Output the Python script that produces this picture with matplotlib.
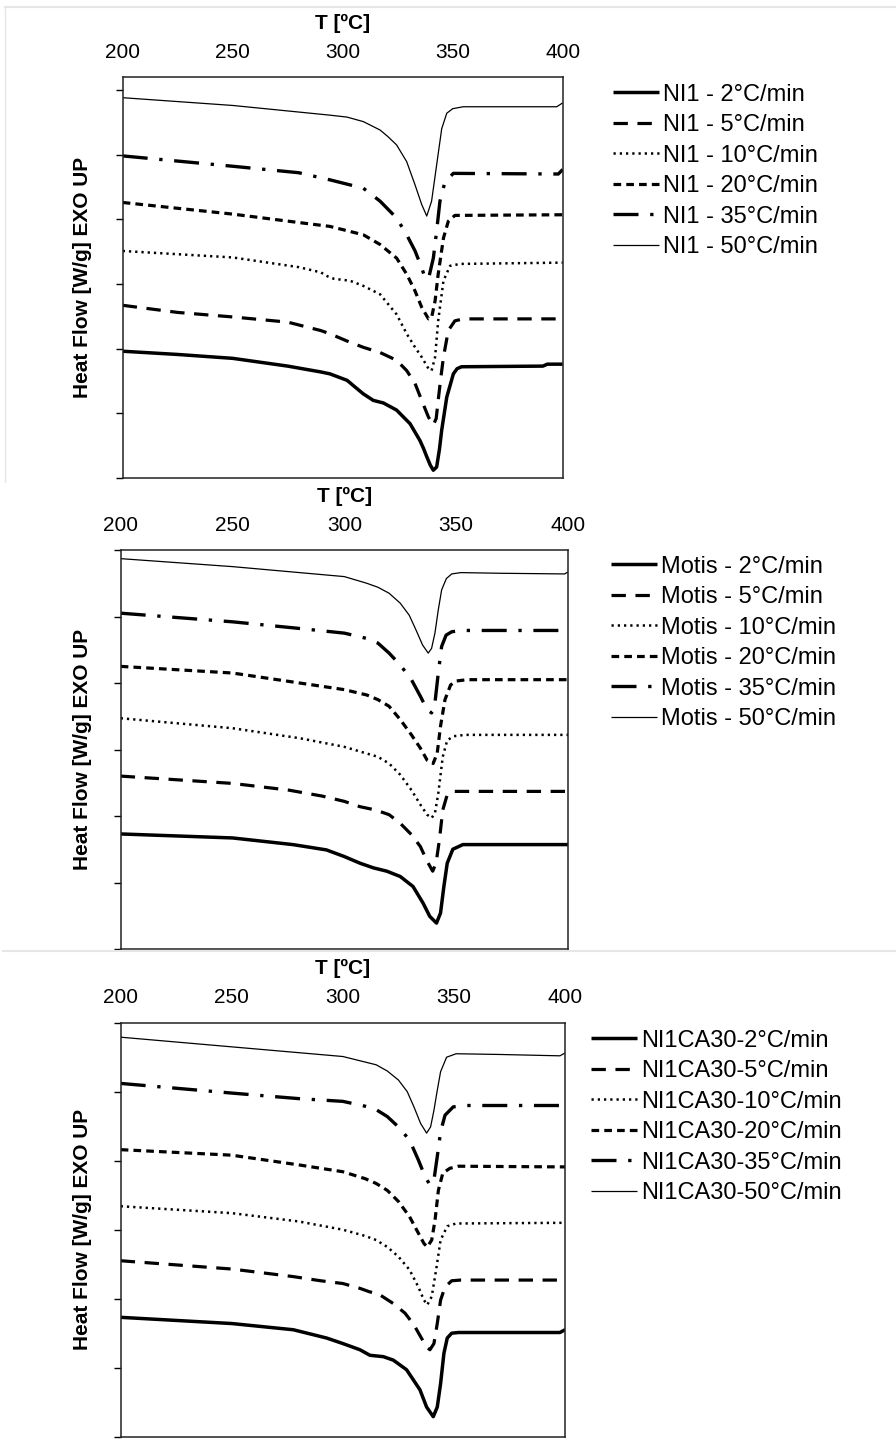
import matplotlib
matplotlib.use("Agg")
import matplotlib.pyplot as plt
from matplotlib.lines import Line2D

plt.rcParams['font.family'] = ['Liberation Sans', 'DejaVu Sans']

RATES = [2, 5, 10, 20, 35, 50]
T_TICKS = [200, 250, 300, 350, 400]
X_TITLE = "T [ºC]"
Y_TITLE = "Heat Flow [W/g] EXO UP"

# --- NI1 ---------------------------------------------------------------
ni1_T = {
    2:  [200, 225, 250, 275, 290, 294.2, 302, 305.5, 309.4, 313.9, 318.5, 324.5, 330.6, 335.1, 336.7, 338.2, 339.8, 341.2, 342.7, 344, 345, 347.3, 350.3, 352, 354, 391, 393, 400],
    5:  [200, 225, 250, 275, 290, 294.2, 301.8, 309.4, 317, 324.5, 329.1, 332.9, 335.9, 339, 341.2, 342.5, 343.4, 344.6, 345.8, 348, 351, 354.8, 400],
    10: [200, 250, 280, 290, 293, 296, 303.3, 309.4, 317, 324.5, 329.1, 332.9, 335.9, 339, 340.4, 342, 343.4, 345.8, 348.8, 353.3, 400],
    20: [200, 250, 280, 294.2, 309.4, 317, 324.5, 329.1, 332.9, 335.9, 339, 340.4, 342, 343.4, 345.8, 348, 351, 400],
    35: [200, 250, 280, 294.2, 309.4, 317, 324.5, 329.1, 332.9, 335.9, 337.4, 339, 341.2, 342.7, 344.2, 346.5, 350.3, 398, 400],
    50: [200, 250, 294.2, 302, 309.4, 317, 320.5, 324.5, 329.1, 332.9, 335.9, 338.2, 340.4, 342.7, 345, 347.3, 350, 354.8, 397.3, 400],
}
ni1_HF = {
    2:  [1.96, 1.91, 1.85, 1.73, 1.64, 1.61, 1.51, 1.41, 1.30, 1.20, 1.16, 1.05, 0.84, 0.58, 0.46, 0.33, 0.20, 0.12, 0.17, 0.45, 0.74, 1.25, 1.61, 1.69, 1.72, 1.73, 1.76, 1.76],
    5:  [2.67, 2.56, 2.49, 2.41, 2.28, 2.23, 2.12, 2.02, 1.94, 1.82, 1.66, 1.46, 1.20, 0.94, 0.82, 0.92, 1.20, 1.55, 1.87, 2.28, 2.43, 2.46, 2.46],
    10: [3.51, 3.41, 3.26, 3.18, 3.12, 3.08, 3.05, 2.97, 2.84, 2.53, 2.23, 2.02, 1.87, 1.69, 1.66, 1.87, 2.43, 3.05, 3.28, 3.31, 3.33],
    20: [4.26, 4.08, 3.95, 3.89, 3.76, 3.61, 3.40, 3.15, 2.89, 2.64, 2.46, 2.48, 2.74, 3.15, 3.71, 3.97, 4.06, 4.07],
    35: [4.98, 4.82, 4.72, 4.61, 4.48, 4.28, 4.02, 3.76, 3.51, 3.25, 3.10, 3.08, 3.40, 3.82, 4.28, 4.58, 4.71, 4.70, 4.77],
    50: [5.88, 5.76, 5.61, 5.58, 5.51, 5.38, 5.28, 5.15, 4.89, 4.53, 4.23, 4.05, 4.28, 4.84, 5.40, 5.64, 5.71, 5.74, 5.74, 5.80],
}

# --- Motis -------------------------------------------------------------
motis_T = {
    2:  [200, 250, 277, 292, 300, 307, 313, 319, 325, 330.7, 335.2, 338.2, 341.2, 343, 344.5, 346, 348.5, 353, 400],
    5:  [200, 250, 275, 290, 300, 307, 314, 320, 325, 330, 334, 337, 339.5, 341, 342.5, 344, 346, 349, 400],
    10: [200, 250, 280, 300, 310, 315, 320, 325, 330, 334, 337, 339, 340.5, 342, 344, 346, 349, 354, 400],
    20: [200, 250, 280, 300, 310, 315, 320, 325, 330, 334, 337, 339.7, 341.5, 343, 345, 347.5, 350, 355, 400],
    35: [200, 250, 280, 300, 310, 315, 320, 325, 330, 334, 337, 339, 340.5, 342, 343.5, 345.5, 348, 352, 400],
    50: [200, 250, 300, 310, 315, 320, 325, 329, 332, 335, 337.5, 339, 340.5, 342, 343.5, 345.6, 348, 352, 370, 398.5, 400],
}
motis_HF = {
    2:  [1.73, 1.67, 1.57, 1.49, 1.39, 1.29, 1.22, 1.17, 1.09, 0.94, 0.69, 0.49, 0.39, 0.54, 0.94, 1.29, 1.50, 1.57, 1.57],
    5:  [2.60, 2.49, 2.39, 2.30, 2.22, 2.14, 2.09, 2.02, 1.89, 1.72, 1.54, 1.32, 1.17, 1.29, 1.64, 2.09, 2.32, 2.37, 2.37],
    10: [3.47, 3.32, 3.17, 3.04, 2.94, 2.89, 2.79, 2.62, 2.39, 2.17, 2.02, 1.97, 2.04, 2.34, 2.89, 3.14, 3.20, 3.22, 3.22],
    20: [4.25, 4.15, 4.00, 3.90, 3.82, 3.75, 3.65, 3.45, 3.22, 3.02, 2.84, 2.79, 2.94, 3.35, 3.75, 3.97, 4.03, 4.05, 4.05],
    35: [5.05, 4.92, 4.82, 4.75, 4.67, 4.60, 4.45, 4.27, 4.05, 3.80, 3.60, 3.55, 3.70, 4.15, 4.55, 4.72, 4.77, 4.79, 4.79],
    50: [5.87, 5.75, 5.60, 5.50, 5.44, 5.35, 5.20, 5.02, 4.80, 4.57, 4.45, 4.52, 4.75, 5.10, 5.40, 5.57, 5.64, 5.66, 5.65, 5.64, 5.67],
}

# --- NI1CA30 -----------------------------------------------------------
ca30_T = {
    2:  [200, 250, 277.7, 292.7, 300, 307.7, 312.2, 318.2, 322.7, 328.7, 334.7, 337.7, 340.7, 342.5, 344, 345.5, 347, 349, 352, 397.7, 400],
    5:  [200, 250, 277.7, 290, 300, 307.7, 312, 316, 322.7, 328, 332, 335, 337.7, 339.2, 341, 342.5, 344, 346, 349, 353, 400],
    10: [200, 250, 280, 300, 310, 315, 320, 325, 330, 334, 336.5, 338, 340, 342, 344, 347, 351, 400],
    20: [200, 250, 280, 300, 310, 315, 320, 325, 330, 334, 336.5, 338, 340, 341.5, 343, 345, 348.2, 352, 400],
    35: [200, 250, 280, 300, 310, 315, 320, 325, 330, 334, 337, 339.2, 341, 342.5, 344, 346, 349.7, 355, 398, 400],
    50: [200, 250, 300, 310, 315, 320, 325, 329, 332, 335, 337.7, 339.5, 341, 342.5, 344, 346.7, 351, 370, 397.7, 400],
}
ca30_HF = {
    2:  [1.73, 1.64, 1.55, 1.43, 1.35, 1.26, 1.18, 1.16, 1.11, 0.97, 0.68, 0.43, 0.29, 0.43, 0.77, 1.21, 1.43, 1.50, 1.51, 1.51, 1.55],
    5:  [2.55, 2.43, 2.32, 2.26, 2.22, 2.15, 2.10, 2.07, 1.93, 1.79, 1.62, 1.45, 1.30, 1.26, 1.35, 1.64, 1.98, 2.17, 2.26, 2.27, 2.27],
    10: [3.34, 3.24, 3.12, 3.00, 2.91, 2.85, 2.75, 2.61, 2.42, 2.17, 1.98, 1.91, 2.03, 2.42, 2.85, 3.05, 3.09, 3.10],
    20: [4.16, 4.08, 3.94, 3.84, 3.74, 3.67, 3.57, 3.41, 3.19, 2.95, 2.80, 2.75, 2.85, 3.14, 3.57, 3.82, 3.89, 3.92, 3.91],
    35: [5.12, 4.98, 4.90, 4.86, 4.79, 4.74, 4.64, 4.49, 4.30, 4.01, 3.77, 3.65, 3.72, 4.06, 4.42, 4.66, 4.78, 4.80, 4.80, 4.86],
    50: [5.79, 5.65, 5.51, 5.43, 5.39, 5.30, 5.17, 5.00, 4.78, 4.54, 4.40, 4.49, 4.73, 5.02, 5.29, 5.50, 5.55, 5.54, 5.52, 5.56],
}

# line style for each heating rate
STYLES = {
    2:  dict(lw=2.5, ls='-'),
    5:  dict(lw=2.3, ls=(0, (4.5, 3.0))),
    10: dict(lw=1.8, ls=(0, (0.9, 1.6))),
    20: dict(lw=2.3, ls=(0, (2.4, 1.6))),
    35: dict(lw=2.4, ls=(0, (7.5, 3.5, 1.0, 3.5))),
    50: dict(lw=0.9, ls='-'),
}

PANELS = [
    # (T data, HF data, label fmt, axes rect [px], ylim top, legend anchor [px])
    (ni1_T, ni1_HF, "NI1 - {}°C/min", (122.7, 77, 562.7, 478), 6.2, (608, 79)),
    (motis_T, motis_HF, "Motis - {}°C/min", (120.7, 550, 568, 949), 6.0, (606, 551)),
    (ca30_T, ca30_HF, "NI1CA30-{}°C/min", (120.7, 1022.7, 565, 1436.7), 6.0, (586, 1025)),
]

W, H = 896, 1452
fig = plt.figure(figsize=(W / 100, H / 100), dpi=100)

for T, HF, fmt, (x0, y0, x1, y1), ytop, (lx, ly) in PANELS:
    ax = fig.add_axes([x0 / W, 1 - y1 / H, (x1 - x0) / W, (y1 - y0) / H])
    for r in RATES:
        ax.plot(T[r], HF[r], color='black', label=fmt.format(r),
                solid_capstyle='butt', dash_capstyle='butt',
                solid_joinstyle='round', **STYLES[r])
    ax.set_xlim(200, 400)
    ax.set_ylim(0, ytop)
    ax.set_xticks(T_TICKS)
    ax.set_yticks(range(0, 7))
    ax.xaxis.tick_top()
    ax.tick_params(axis='x', length=0, pad=11, labelsize=15)
    ax.tick_params(axis='y', length=5, width=1, labelleft=False, direction='out')
    for sp in ax.spines.values():
        sp.set_linewidth(1.1)
        sp.set_color('#222222')
    ax.xaxis.set_label_position('top')
    ax.set_xlabel(X_TITLE, fontsize=15, fontweight='bold')
    ax.xaxis.label.set_va('center')
    ax.xaxis.set_label_coords(0.5, 1 + 54 / (y1 - y0))
    ax.set_ylabel(Y_TITLE, fontsize=15, fontweight='bold')
    ax.yaxis.label.set_va('center')
    ax.yaxis.set_label_coords(-(x0 - 82) / (x1 - x0), 0.5)
    ax.legend(loc='upper left', bbox_to_anchor=(lx / W, 1 - ly / H),
              bbox_transform=fig.transFigure, frameon=False, fontsize=17,
              handlelength=1.95, handletextpad=0.2, labelspacing=0.36,
              borderpad=0.2, borderaxespad=0)

# faint separators between the stacked panels
sep = '#e6e6e6'
fig.add_artist(Line2D([5 / W, 1], [1 - 7 / H, 1 - 7 / H], color=sep, lw=1.5))
fig.add_artist(Line2D([5 / W, 5 / W], [1 - 7 / H, 1 - 482 / H], color=sep, lw=1.0))
fig.add_artist(Line2D([3 / W, 1], [1 - 951 / H, 1 - 951 / H], color=sep, lw=1.5))

fig.savefig("out.png", dpi=100, facecolor='white')
